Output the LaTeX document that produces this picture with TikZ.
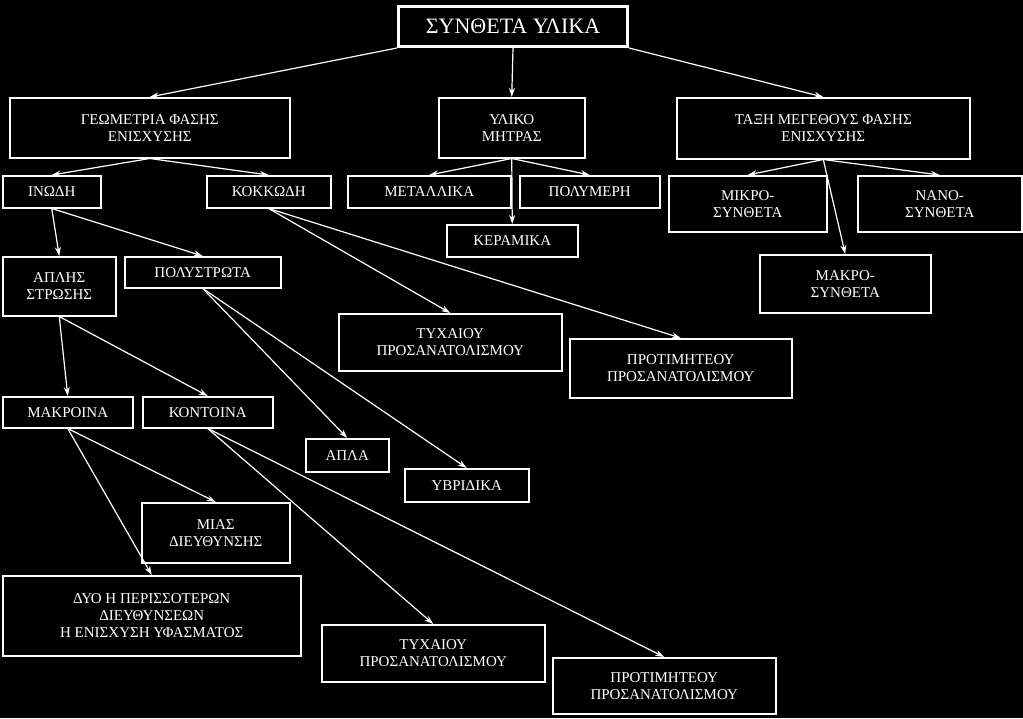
\documentclass[tikz,border=0pt]{standalone}
\usepackage{fontspec}
\setmainfont{Liberation Serif}
\usetikzlibrary{arrows.meta}
\tikzset{
  box/.style={rectangle, draw=white, line width=1.5pt, text=white, align=center, inner sep=1pt, anchor=north west, font=\fontsize{15}{17}\selectfont},
  link/.style={draw=white, line width=1.2pt, -{Stealth[length=9pt,width=6pt]}}
}
\begin{document}
\begin{tikzpicture}[x=1pt,y=-1pt]
\fill[black] (0,0) rectangle (1023,718);
\useasboundingbox (0,0) rectangle (1023,718);

\node at (397,5)[box, line width=3pt, minimum width=229pt, minimum height=40pt, font=\fontsize{22}{24}\selectfont] (title) {ΣΥΝΘΕΤΑ ΥΛΙΚΑ};

\node at (9,97)[box, minimum width=280pt, minimum height=60pt] (geom) {ΓΕΩΜΕΤΡΙΑ ΦΑΣΗΣ\\ΕΝΙΣΧΥΣΗΣ};
\node at (438,97)[box, minimum width=146pt, minimum height=60pt] (matrix) {ΥΛΙΚΟ\\ΜΗΤΡΑΣ};
\node at (676,97)[box, minimum width=293pt, minimum height=61pt] (size) {ΤΑΞΗ ΜΕΓΕΘΟΥΣ ΦΑΣΗΣ\\ΕΝΙΣΧΥΣΗΣ};

\node at (2,175)[box, minimum width=98pt, minimum height=32pt] (fibre) {ΙΝΩΔΗ};
\node at (206,175)[box, minimum width=124pt, minimum height=32pt] (grain) {ΚΟΚΚΩΔΗ};
\node at (347,175)[box, minimum width=163pt, minimum height=32pt] (metal) {ΜΕΤΑΛΛΙΚΑ};
\node at (519,175)[box, minimum width=140pt, minimum height=32pt] (polymer) {ΠΟΛΥΜΕΡΗ};
\node at (446,224)[box, minimum width=131pt, minimum height=32pt] (ceramic) {ΚΕΡΑΜΙΚΑ};
\node at (668,175)[box, minimum width=158pt, minimum height=56pt] (micro) {ΜΙΚΡΟ-\\ΣΥΝΘΕΤΑ};
\node at (857,175)[box, minimum width=164pt, minimum height=56pt] (nano) {ΝΑΝΟ-\\ΣΥΝΘΕΤΑ};
\node at (759,254)[box, minimum width=171pt, minimum height=58pt] (macro) {ΜΑΚΡΟ-\\ΣΥΝΘΕΤΑ};

\node at (2,256)[box, minimum width=113pt, minimum height=59pt] (single) {ΑΠΛΗΣ\\ΣΤΡΩΣΗΣ};
\node at (124,256)[box, minimum width=156pt, minimum height=31pt] (multi) {ΠΟΛΥΣΤΡΩΤΑ};
\node at (338,313)[box, minimum width=223pt, minimum height=57pt] (randA) {ΤΥΧΑΙΟΥ\\ΠΡΟΣΑΝΑΤΟΛΙΣΜΟΥ};
\node at (569,338)[box, minimum width=222pt, minimum height=59pt] (prefA) {ΠΡΟΤΙΜΗΤΕΟΥ\\ΠΡΟΣΑΝΑΤΟΛΙΣΜΟΥ};

\node at (2,396)[box, minimum width=130pt, minimum height=31pt] (long) {ΜΑΚΡΟΙΝΑ};
\node at (142,396)[box, minimum width=130pt, minimum height=31pt] (short) {ΚΟΝΤΟΙΝΑ};
\node at (305,438)[box, minimum width=83pt, minimum height=33pt] (plain) {ΑΠΛΑ};
\node at (404,468)[box, minimum width=124pt, minimum height=33pt] (hybrid) {ΥΒΡΙΔΙΚΑ};

\node at (141,502)[box, minimum width=148pt, minimum height=60pt] (onedir) {ΜΙΑΣ\\ΔΙΕΥΘΥΝΣΗΣ};
\node at (2,575)[box, minimum width=298pt, minimum height=80pt] (twodir) {ΔΥΟ Η ΠΕΡΙΣΣΟΤΕΡΩΝ\\ΔΙΕΥΘΥΝΣΕΩΝ\\Η ΕΝΙΣΧΥΣΗ ΥΦΑΣΜΑΤΟΣ};
\node at (321,624)[box, minimum width=223pt, minimum height=57pt] (randB) {ΤΥΧΑΙΟΥ\\ΠΡΟΣΑΝΑΤΟΛΙΣΜΟΥ};
\node at (552,657)[box, minimum width=223pt, minimum height=56pt] (prefB) {ΠΡΟΤΙΜΗΤΕΟΥ\\ΠΡΟΣΑΝΑΤΟΛΙΣΜΟΥ};

\draw[link] (title.south west) -- (geom.north);
\draw[link] (title.south) -- (matrix.north);
\draw[link] (title.south east) -- (size.north);

\draw[link] (geom.south) -- (fibre.north);
\draw[link] (geom.south) -- (grain.north);
\draw[link] (matrix.south) -- (metal.north);
\draw[link] (matrix.south) -- (polymer.north);
\draw[link] (matrix.south) -- (ceramic.north);
\draw[link] (size.south) -- (micro.north);
\draw[link] (size.south) -- (nano.north);
\draw[link] (size.south) -- (macro.north);

\draw[link] (fibre.south) -- (single.north);
\draw[link] (fibre.south) -- (multi.north);
\draw[link] (grain.south) -- (randA.north);
\draw[link] (grain.south) -- (prefA.north);

\draw[link] (single.south) -- (long.north);
\draw[link] (single.south) -- (short.north);
\draw[link] (multi.south) -- (plain.north);
\draw[link] (multi.south) -- (hybrid.north);

\draw[link] (long.south) -- (onedir.north);
\draw[link] (long.south) -- (twodir.north);
\draw[link] (short.south) -- (randB.north);
\draw[link] (short.south) -- (prefB.north);

\end{tikzpicture}
\end{document}
